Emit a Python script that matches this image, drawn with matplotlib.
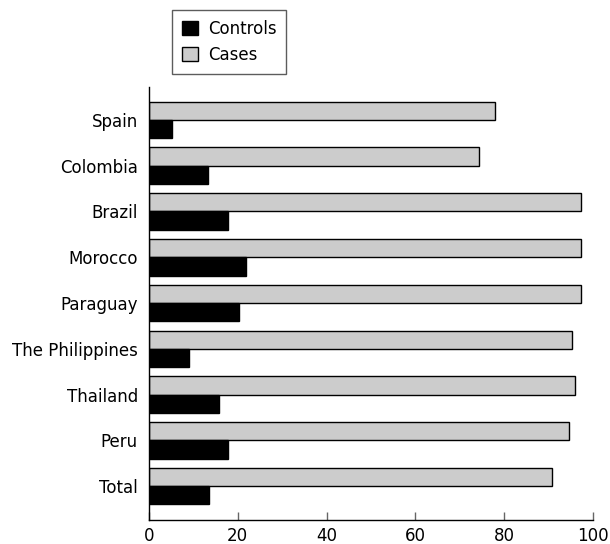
import matplotlib
matplotlib.use("Agg")
import matplotlib.pyplot as plt
import numpy as np

countries = ["Spain", "Colombia", "Brazil", "Morocco", "Paraguay",
             "The Philippines", "Thailand", "Peru", "Total"]
cases = [77.9, 74.3, 97.3, 97.3, 97.4, 95.3, 95.9, 94.7, 90.8]
controls = [5.1, 13.3, 17.7, 21.9, 20.2, 9.0, 15.7, 17.7, 13.5]

plt.rcParams["font.family"] = ["DejaVu Sans"]

fig = plt.figure(figsize=(6.1, 5.44), dpi=100)
ax = fig.add_axes([149 / 610, 1 - 520 / 544, 444 / 610, 433 / 544])

y = np.arange(len(countries))
h = 0.4

ax.barh(y - h / 2, cases, height=h, color="#cccccc",
        edgecolor="black", linewidth=1, label="Cases")
ax.barh(y + h / 2, controls, height=h, color="black",
        edgecolor="black", linewidth=1, label="Controls")

ax.set_xlim(0, 100)
ax.set_ylim(8.74, -0.72)
ax.set_yticks(y)
ax.set_yticklabels(countries, fontsize=12)
ax.set_xticks([0, 20, 40, 60, 80, 100])
ax.tick_params(axis="y", length=0, pad=8)
ax.tick_params(axis="x", direction="in", length=6, width=1,
               color="#666666", labelsize=12, pad=5)

ax.spines["top"].set_visible(False)
ax.spines["right"].set_visible(False)
ax.spines["left"].set_linewidth(1)
ax.spines["bottom"].set_linewidth(1)

handles, labels = ax.get_legend_handles_labels()
leg = fig.legend(handles[::-1], labels[::-1],
                 loc="upper left", bbox_to_anchor=(172 / 610, 1 - 10 / 544),
                 fontsize=12, frameon=True, fancybox=False,
                 edgecolor="#333333", handlelength=0.95, handleheight=0.95,
                 handletextpad=0.6, borderpad=0.6, borderaxespad=0,
                 labelspacing=0.45)
leg.get_frame().set_linewidth(1)

fig.savefig("out.png", dpi=100)
